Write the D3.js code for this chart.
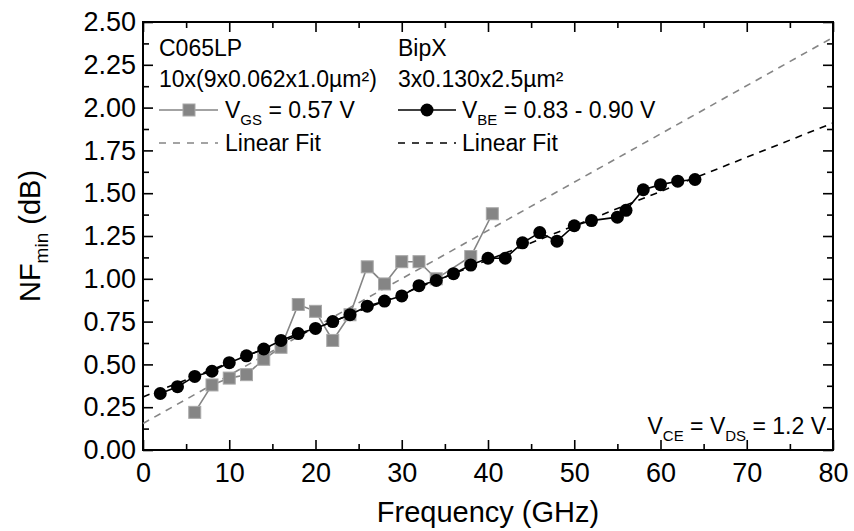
<!DOCTYPE html>
<html>
<head>
<meta charset="utf-8">
<script src="https://cdn.jsdelivr.net/npm/d3@7"></script>
<style>
  body { margin: 0; background: #fff; }
  text { font-family: "Liberation Sans", Arial, sans-serif; fill: #000; }
</style>
</head>
<body>
<div id="chart"></div>
<script>
// BipX, V_BE = 0.83 - 0.90 V
var freqBip = [2, 4, 6, 8, 10, 12, 14, 16, 18, 20, 22, 24, 26, 28, 30, 32, 34, 36, 38, 40, 42, 44, 46, 48, 50, 52, 55, 56, 58, 60, 62, 64]
var nfBip = [0.33, 0.37, 0.43, 0.46, 0.51, 0.55, 0.59, 0.64, 0.68, 0.71, 0.75, 0.79, 0.84, 0.87, 0.90, 0.96, 0.99, 1.03, 1.08, 1.12, 1.12, 1.21, 1.27, 1.22, 1.31, 1.34, 1.36, 1.40, 1.52, 1.55, 1.57, 1.58]

// C065LP, V_GS = 0.57 V
var freqCmos = [6, 8, 10, 12, 14, 16, 18, 20, 22, 24, 26, 28, 30, 32, 34, 38, 40.5]
var nfCmos = [0.22, 0.38, 0.42, 0.44, 0.53, 0.60, 0.85, 0.81, 0.64, 0.79, 1.07, 0.97, 1.10, 1.10, 1.00, 1.13, 1.38]

// linear fits, end points at 0 and 80 GHz
var fitFreq = [0, 80]
var fitBip = [0.31, 1.91]
var fitCmos = [0.155, 2.41]

var xTicks = [0, 10, 20, 30, 40, 50, 60, 70, 80]
var yTicks = [0, 0.25, 0.5, 0.75, 1, 1.25, 1.5, 1.75, 2, 2.25, 2.5]

var W = 854, H = 531
var m = {l: 143, r: 833, t: 22, b: 450}
var grey = '#858585'

var svg = d3.select('#chart').append('svg')
  .attr('width', W)
  .attr('height', H)

var x = d3.scaleLinear().domain([0, 80]).range([m.l, m.r])
var y = d3.scaleLinear().domain([0, 2.5]).range([m.b, m.t])

var xMinor = xTicks.slice(1).map(d => d - 5)
var yMinor = yTicks.slice(1).map(d => d - 0.125)

function styleAxis(g) {
  g.select('.domain').remove()
  g.selectAll('line').attr('stroke', '#000').attr('stroke-width', 1.6)
}

// bottom
svg.append('g').attr('transform', `translate(0,${m.b})`)
  .call(d3.axisBottom(x).tickValues(xTicks).tickSize(-10).tickPadding(13).tickFormat(d3.format('d')))
  .call(styleAxis)
  .selectAll('text').style('font-size', '27px')
svg.append('g').attr('transform', `translate(0,${m.b})`)
  .call(d3.axisBottom(x).tickValues(xMinor).tickSize(-6).tickFormat(''))
  .call(styleAxis)
// top
svg.append('g').attr('transform', `translate(0,${m.t})`)
  .call(d3.axisTop(x).tickValues(xTicks).tickSize(-10).tickFormat(''))
  .call(styleAxis)
svg.append('g').attr('transform', `translate(0,${m.t})`)
  .call(d3.axisTop(x).tickValues(xMinor).tickSize(-6).tickFormat(''))
  .call(styleAxis)
// left
svg.append('g').attr('transform', `translate(${m.l},0)`)
  .call(d3.axisLeft(y).tickValues(yTicks).tickSize(-10).tickPadding(7).tickFormat(d3.format('.2f')))
  .call(styleAxis)
  .selectAll('text').style('font-size', '27px')
svg.append('g').attr('transform', `translate(${m.l},0)`)
  .call(d3.axisLeft(y).tickValues(yMinor).tickSize(-6).tickFormat(''))
  .call(styleAxis)
// right
svg.append('g').attr('transform', `translate(${m.r},0)`)
  .call(d3.axisRight(y).tickValues(yTicks).tickSize(-10).tickFormat(''))
  .call(styleAxis)
svg.append('g').attr('transform', `translate(${m.r},0)`)
  .call(d3.axisRight(y).tickValues(yMinor).tickSize(-6).tickFormat(''))
  .call(styleAxis)

svg.append('rect')
  .attr('x', m.l).attr('y', m.t)
  .attr('width', m.r - m.l).attr('height', m.b - m.t)
  .attr('fill', 'none').attr('stroke', '#000').attr('stroke-width', 2)

// axis titles
svg.append('text')
  .attr('x', (m.l + m.r) / 2).attr('y', 522)
  .attr('text-anchor', 'middle')
  .style('font-size', '29px')
  .text('Frequency (GHz)')

var yt = svg.append('text')
  .attr('transform', `translate(40,${(m.t + m.b) / 2}) rotate(-90)`)
  .attr('text-anchor', 'middle')
  .style('font-size', '29px')
yt.append('tspan').text('NF')
yt.append('tspan').text('min').style('font-size', '19px').attr('dy', 8)
yt.append('tspan').text(' (dB)').attr('dy', -8)

// lines
var line = d3.line().x(d => x(d[0])).y(d => y(d[1]))

var fitC = d3.zip(fitFreq, fitCmos)
var fitB = d3.zip(fitFreq, fitBip)
var cmos = d3.zip(freqCmos, nfCmos)
var bip = d3.zip(freqBip, nfBip)

svg.append('path').datum(fitC).attr('d', line)
  .attr('fill', 'none').attr('stroke', grey).attr('stroke-width', 1.6).attr('stroke-dasharray', '7,6')
svg.append('path').datum(cmos).attr('d', line)
  .attr('fill', 'none').attr('stroke', grey).attr('stroke-width', 1.6)
svg.selectAll('.sq').data(cmos).enter().append('rect')
  .attr('x', d => x(d[0]) - 6).attr('y', d => y(d[1]) - 6)
  .attr('width', 12).attr('height', 12)
  .attr('fill', grey).attr('stroke', '#a8a8a8').attr('stroke-width', 1)

svg.append('path').datum(bip).attr('d', line)
  .attr('fill', 'none').attr('stroke', '#000').attr('stroke-width', 1.6)
svg.append('path').datum(fitB).attr('d', line)
  .attr('fill', 'none').attr('stroke', '#000').attr('stroke-width', 1.6).attr('stroke-dasharray', '7,6')
svg.selectAll('.ci').data(bip).enter().append('circle')
  .attr('cx', d => x(d[0])).attr('cy', d => y(d[1]))
  .attr('r', 6.5).attr('fill', '#000')

// legend
function label(xp, yp, parts, anchor) {
  var t = svg.append('text').attr('x', xp).attr('y', yp).style('font-size', '23px')
    .attr('text-anchor', anchor || 'start')
  parts.forEach(p => {
    var s = t.append('tspan').text(p.t)
    if (p.sub) s.style('font-size', '15px').attr('dy', 7)
    if (p.up) s.attr('dy', -7)
  })
}

label(159, 56, [{t: 'C065LP'}])
label(159, 87, [{t: '10x(9x0.062x1.0\u00b5m\u00b2)'}])
label(225, 118, [{t: 'V'}, {t: 'GS', sub: true}, {t: ' = 0.57 V', up: true}])
label(225, 151, [{t: 'Linear Fit'}])
label(398, 56, [{t: 'BipX'}])
label(398, 87, [{t: '3x0.130x2.5\u00b5m\u00b2'}])
label(462, 118, [{t: 'V'}, {t: 'BE', sub: true}, {t: ' = 0.83 - 0.90 V', up: true}])
label(462, 151, [{t: 'Linear Fit'}])
label(826, 434, [{t: 'V'}, {t: 'CE', sub: true}, {t: ' = V', up: true}, {t: 'DS', sub: true}, {t: ' = 1.2 V', up: true}], 'end')

var legRow = 110, legFit = 143
svg.append('line').attr('x1', 159).attr('x2', 218).attr('y1', legRow).attr('y2', legRow)
  .attr('stroke', grey).attr('stroke-width', 1.6)
svg.append('rect').attr('x', 183).attr('y', legRow - 6).attr('width', 12).attr('height', 12)
  .attr('fill', grey).attr('stroke', '#a8a8a8')
svg.append('line').attr('x1', 159).attr('x2', 218).attr('y1', legFit).attr('y2', legFit)
  .attr('stroke', grey).attr('stroke-width', 1.6).attr('stroke-dasharray', '7,7')

svg.append('line').attr('x1', 398).attr('x2', 456).attr('y1', legRow).attr('y2', legRow)
  .attr('stroke', '#000').attr('stroke-width', 1.6)
svg.append('circle').attr('cx', 427).attr('cy', legRow).attr('r', 6.5).attr('fill', '#000')
svg.append('line').attr('x1', 398).attr('x2', 456).attr('y1', legFit).attr('y2', legFit)
  .attr('stroke', '#000').attr('stroke-width', 1.6).attr('stroke-dasharray', '7,7')
</script>
</body>
</html>
